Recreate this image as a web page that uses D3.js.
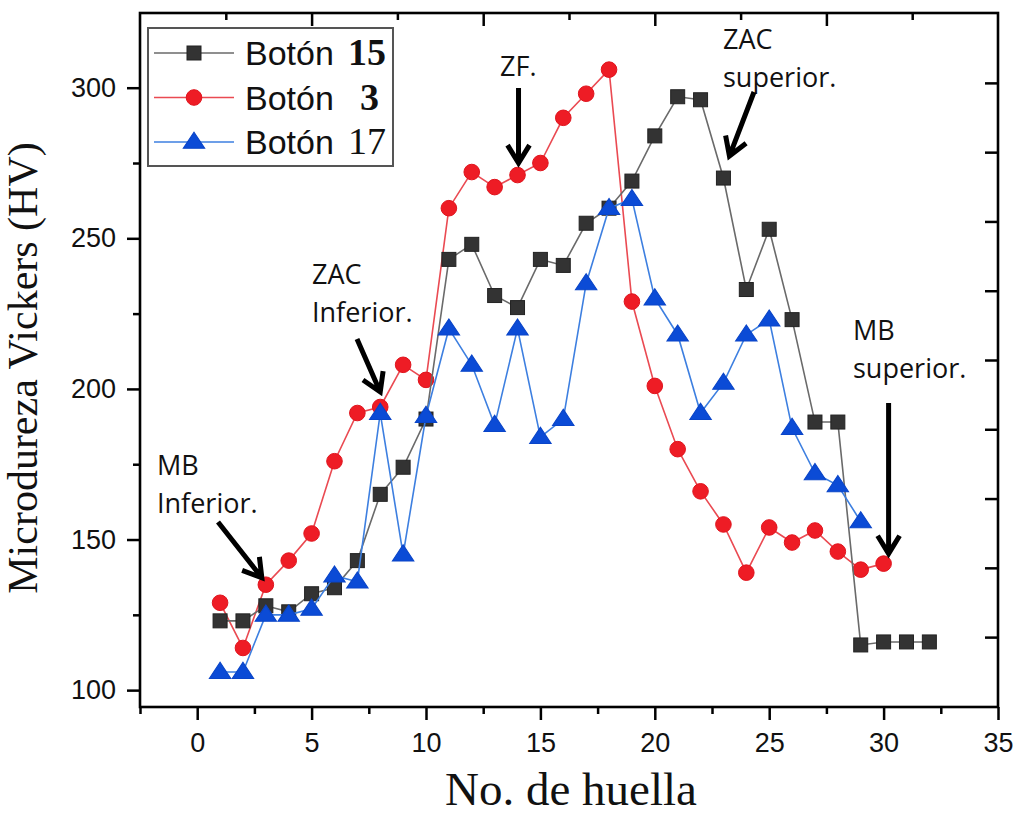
<!DOCTYPE html>
<html>
<head>
<meta charset="utf-8">
<script src="https://cdn.jsdelivr.net/npm/d3@7"></script>
<style>
  html, body { margin: 0; padding: 0; background: #fff; }
  svg { display: block; }
</style>
</head>
<body>
<svg id="chart" width="1019" height="817"></svg>
<script>
// Microhardness profile along the indentation line for three welded buttons
const boton15 = [123,123,128,126,132,134,143,165,174,190,243,248,231,227,243,241,255,260,269,284,297,296,270,233,253,223,189,189,115,116,116,116];
const boton3  = [129,114,135,143,152,176,192,194,208,203,260,272,267,271,275,290,298,306,229,201,180,166,155,139,154,149,153,146,140,142];
const boton17 = [106,106,125,125,127,138,136,192,145,191,220,208,188,220,184,190,235,260,263,230,218,192,202,218,223,187,172,168,156];

const xTicks      = [0,5,10,15,20,25,30,35];
const xMinorTicks = [-2.5,2.5,7.5,12.5,17.5,22.5,27.5,32.5];
const yTicks      = [100,150,200,250,300];
const yMinorTicks = [125,175,225,275];
const topMajorTicks = [5,12.5,20,27.5];
const topMinorTicks = [1.25,8.75,16.25,23.75,31.25];
const rightTicks  = [117.6,140.6,163.6,186.6,209.6,232.6,255.6,278.6,301.6];

const seriesNames = ["Botón", "Botón", "Botón"];
const seriesNums  = ["15", "3", "17"];

const svg = d3.select("#chart");
const plot = { left: 140, right: 998, top: 13, bottom: 707 };

const x = d3.scaleLinear().domain([-2.5, 35]).range([plot.left, plot.right]);
const y = d3.scaleLinear().domain([94.4, 324.8]).range([plot.bottom, plot.top]);

const tickFont = "'Liberation Sans', Arial, sans-serif";
const serif = "'Liberation Serif', 'Times New Roman', serif";
const noteFont = "'Open Sans', 'Liberation Sans', sans-serif";

// ---- axes -------------------------------------------------------------
function styleAxis(g) {
  g.select(".domain").remove();
  g.selectAll(".tick line").attr("stroke", "#000").attr("stroke-width", 2.5);
  g.selectAll(".tick text").attr("fill", "#111")
    .style("font-family", tickFont).style("font-size", "27px");
}

svg.append("g").attr("transform", `translate(0,${plot.bottom})`)
  .call(d3.axisBottom(x).tickValues(xTicks).tickSize(13).tickPadding(13).tickFormat(d3.format("d")))
  .call(styleAxis);
svg.append("g").attr("transform", `translate(0,${plot.bottom})`)
  .call(d3.axisBottom(x).tickValues(xMinorTicks).tickSize(7).tickFormat(""))
  .call(styleAxis);

svg.append("g").attr("transform", `translate(${plot.left},0)`)
  .call(d3.axisLeft(y).tickValues(yTicks).tickSize(13).tickPadding(11).tickFormat(d3.format("d")))
  .call(styleAxis);
svg.append("g").attr("transform", `translate(${plot.left},0)`)
  .call(d3.axisLeft(y).tickValues(yMinorTicks).tickSize(7).tickFormat(""))
  .call(styleAxis);

// top ticks point inward
svg.append("g").attr("transform", `translate(0,${plot.top})`)
  .call(d3.axisBottom(x).tickValues(topMajorTicks).tickSize(13).tickFormat(""))
  .call(styleAxis);
svg.append("g").attr("transform", `translate(0,${plot.top})`)
  .call(d3.axisBottom(x).tickValues(topMinorTicks).tickSize(7).tickFormat(""))
  .call(styleAxis);

// right ticks point inward
svg.append("g").attr("transform", `translate(${plot.right},0)`)
  .call(d3.axisLeft(y).tickValues(rightTicks).tickSize(13).tickFormat(""))
  .call(styleAxis);

// frame
svg.append("rect")
  .attr("x", plot.left).attr("y", plot.top)
  .attr("width", plot.right - plot.left).attr("height", plot.bottom - plot.top)
  .attr("fill", "none").attr("stroke", "#000").attr("stroke-width", 2.6);

// axis titles
svg.append("text")
  .attr("transform", `translate(37,${(plot.top + plot.bottom) / 2 + 8}) rotate(-90)`)
  .attr("text-anchor", "middle")
  .style("font-family", serif).style("font-size", "42px").attr("fill", "#111")
  .text("Microdureza Vickers (HV)");

svg.append("text")
  .attr("x", 571).attr("y", 805)
  .attr("text-anchor", "middle")
  .style("font-family", serif).style("font-size", "47px").attr("fill", "#111")
  .text("No. de huella");

// ---- series -----------------------------------------------------------
const styles = {
  b15: { line: "#6a6a6a", fill: "#333333", stroke: "#222222", shape: "square" },
  b3:  { line: "#ea4a52", fill: "#ee1c25", stroke: "#e0141d", shape: "circle" },
  b17: { line: "#3d7fe0", fill: "#0b4bd6", stroke: "#0a45c8", shape: "triangle" }
};

function marker(g, shape, st, cx, cy) {
  if (shape === "square") {
    g.append("rect").attr("x", cx - 7).attr("y", cy - 7).attr("width", 14).attr("height", 14)
      .attr("fill", st.fill).attr("stroke", st.stroke).attr("stroke-width", 1);
  } else if (shape === "circle") {
    g.append("circle").attr("cx", cx).attr("cy", cy).attr("r", 7.8)
      .attr("fill", st.fill).attr("stroke", st.stroke).attr("stroke-width", 1);
  } else {
    const s = d3.symbol().type(d3.symbolTriangle).size(150);
    g.append("path").attr("d", s()).attr("transform", `translate(${cx},${cy + 1}) scale(1.15,1)`)
      .attr("fill", st.fill).attr("stroke", st.stroke).attr("stroke-width", 1);
  }
}

const line = d3.line().x((d, i) => x(i + 1)).y(d => y(d));

function drawSeries(values, st) {
  const g = svg.append("g");
  g.append("path").datum(values).attr("d", line)
    .attr("fill", "none").attr("stroke", st.line).attr("stroke-width", 1.6);
  values.forEach((v, i) => marker(g, st.shape, st, x(i + 1), y(v)));
}

drawSeries(boton3, styles.b3);
drawSeries(boton15, styles.b15);
drawSeries(boton17, styles.b17);

// ---- annotations ------------------------------------------------------
function arrow(x1, y1, x2, y2) {
  const ang = Math.atan2(y2 - y1, x2 - x1);
  const len = 21, spread = 0.55;
  const a1 = [x2 - len * Math.cos(ang - spread), y2 - len * Math.sin(ang - spread)];
  const a2 = [x2 - len * Math.cos(ang + spread), y2 - len * Math.sin(ang + spread)];
  svg.append("path")
    .attr("d", `M${x1},${y1}L${x2},${y2}M${a1[0]},${a1[1]}L${x2},${y2}L${a2[0]},${a2[1]}`)
    .attr("fill", "none").attr("stroke", "#000").attr("stroke-width", 5)
    .attr("stroke-linejoin", "miter").attr("stroke-linecap", "butt");
}

function note(lines, x0, y0) {
  const t = svg.append("text")
    .style("font-family", noteFont).style("font-size", "27px").attr("fill", "#111");
  lines.forEach((s, i) => t.append("tspan").attr("x", x0).attr("y", y0 + i * 38).text(s));
}

// arrows point at the marked indentations
note(["MB", "Inferior."], 157, 475);
arrow(218, 522, x(3) - 4, y(boton3[2]) - 7);

note(["ZAC", "Inferior."], 312, 284);
arrow(357, 339, x(8), y(boton3[7]) - 15);

note(["ZF."], 500, 76);
arrow(x(14) + 1, 88, x(14) + 1, y(boton3[13]) - 12);

note(["ZAC", "superior."], 723, 49);
arrow(754, 92, x(23) + 6, y(boton15[22]) - 22);

note(["MB", "superior."], 853, 340);
arrow(x(30) + 5, 403, x(30) + 5, y(boton3[29]) - 10);

// ---- legend -----------------------------------------------------------
const leg = svg.append("g");
leg.append("rect").attr("x", 148).attr("y", 28).attr("width", 245).attr("height", 138)
  .attr("fill", "#fff").attr("stroke", "#555").attr("stroke-width", 2);

const legStyles = [styles.b15, styles.b3, styles.b17];
const numX = [348, 360, 348];
const numBold = [true, true, false];
legStyles.forEach((st, i) => {
  const cy = 53 + i * 44.5;
  leg.append("line").attr("x1", 154).attr("x2", 234).attr("y1", cy).attr("y2", cy)
    .attr("stroke", st.line).attr("stroke-width", 1.6);
  marker(leg, st.shape, st, 194, cy);
  leg.append("text").attr("x", 245).attr("y", cy + 12)
    .style("font-family", tickFont).style("font-size", "34px").attr("fill", "#111")
    .text(seriesNames[i]);
  leg.append("text").attr("x", numX[i]).attr("y", cy + 12)
    .style("font-family", serif).style("font-size", "38px")
    .style("font-weight", numBold[i] ? "bold" : "normal").attr("fill", "#111")
    .text(seriesNums[i]);
});
</script>
</body>
</html>
